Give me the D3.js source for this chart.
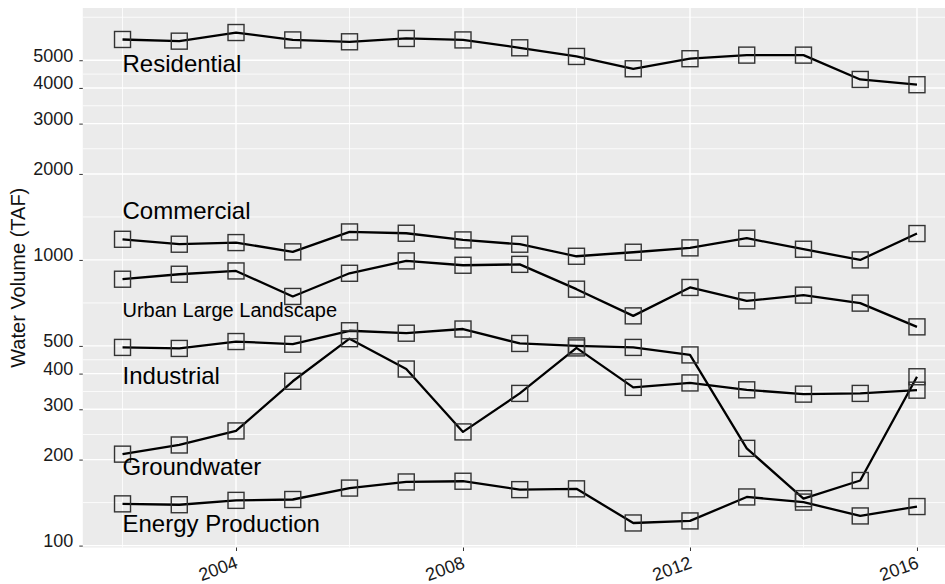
<!DOCTYPE html>
<html>
<head>
<meta charset="utf-8">
<script src="https://cdn.jsdelivr.net/npm/d3@7"></script>
<style>
  html, body { margin: 0; padding: 0; background: #fff; }
  svg { display: block; font-family: "Liberation Sans", Arial, Helvetica, sans-serif; }
</style>
</head>
<body>
<svg id="chart" width="945" height="584"></svg>
<script>
// ---- data ----
const years = [2002, 2003, 2004, 2005, 2006, 2007, 2008, 2009, 2010, 2011, 2012, 2013, 2014, 2015, 2016];
const residential = [5911, 5832, 6252, 5890, 5802, 5960, 5890, 5528, 5155, 4668, 5062, 5211, 5211, 4283, 4105];
const commercial  = [1181, 1135, 1150, 1067, 1253, 1240, 1175, 1135, 1030, 1064, 1102, 1191, 1090, 1000, 1237];
const urbanLarge  = [856, 891, 915, 745, 898, 992, 958, 965, 790, 637, 801, 719, 753, 706, 583];
const industrial  = [494, 490, 518, 507, 565, 554, 573, 510, 500, 494, 465, 219, 146, 169, 390];
const groundwater = [209, 225, 252, 376, 530, 415, 250, 341, 492, 358, 371, 351, 339, 341, 350];
const energy      = [140, 139, 144, 145, 159, 167, 168, 157, 158, 120, 122, 148, 142, 127, 137];

const seriesNames  = ["Residential", "Commercial", "Urban Large Landscape", "Industrial", "Groundwater", "Energy Production"];
const seriesValues = [residential, commercial, urbanLarge, industrial, groundwater, energy];
const labelValues  = [4530, 1388, 630, 368, 177, 112];   // label anchor (TAF) at first year

const yTicks = [100, 200, 300, 400, 500, 1000, 2000, 3000, 4000, 5000];
const xTicks = [2004, 2008, 2012, 2016];
const yTitle = "Water Volume (TAF)";

// ---- layout ----
const svg = d3.select("#chart");
const panel = { left: 82.8, top: 8, bottom: 547.5, right: 956.7 };

const allVals = seriesValues.flat();
const lmin = Math.log10(d3.min(allVals)), lmax = Math.log10(d3.max(allVals));
const lexp = (lmax - lmin) * 0.05;
const y = d3.scaleLog()
  .domain([Math.pow(10, lmin - lexp), Math.pow(10, lmax + lexp)])
  .range([panel.bottom, panel.top]);

const xspan = d3.max(years) - d3.min(years);
const x = d3.scaleLinear()
  .domain([d3.min(years) - xspan * 0.05, d3.max(years) + xspan * 0.05])
  .range([panel.left, panel.right]);

// panel background
svg.append("rect")
  .attr("x", panel.left).attr("y", panel.top)
  .attr("width", panel.right - panel.left).attr("height", panel.bottom - panel.top)
  .attr("fill", "#EBEBEB");

const grid = svg.append("g");
// minor y grid (midpoints in log space)
const lt = yTicks.map(v => Math.log10(v));
const ltExt = lt.concat([lt[lt.length - 1] + (lt[1] - lt[0])]);
const yMinor = [];
for (let i = 0; i < ltExt.length - 1; i++) yMinor.push(Math.pow(10, (ltExt[i] + ltExt[i + 1]) / 2));
grid.selectAll(".ymin").data(yMinor.filter(v => y(v) >= panel.top && y(v) <= panel.bottom))
  .join("line")
  .attr("x1", panel.left).attr("x2", panel.right)
  .attr("y1", d => y(d)).attr("y2", d => y(d))
  .attr("stroke", "#fff").attr("stroke-width", 0.8);
// minor x grid
const xMinor = [2002, 2006, 2010, 2014];
grid.selectAll(".xmin").data(xMinor).join("line")
  .attr("x1", d => x(d)).attr("x2", d => x(d))
  .attr("y1", panel.top).attr("y2", panel.bottom)
  .attr("stroke", "#fff").attr("stroke-width", 0.8);
// major grid
grid.selectAll(".ymaj").data(yTicks).join("line")
  .attr("x1", panel.left).attr("x2", panel.right)
  .attr("y1", d => y(d)).attr("y2", d => y(d))
  .attr("stroke", "#fff").attr("stroke-width", 1.4);
grid.selectAll(".xmaj").data(xTicks).join("line")
  .attr("x1", d => x(d)).attr("x2", d => x(d))
  .attr("y1", panel.top).attr("y2", panel.bottom)
  .attr("stroke", "#fff").attr("stroke-width", 1.4);

// ---- axes ----
const yAxis = svg.append("g").attr("transform", `translate(${panel.left},0)`)
  .call(d3.axisLeft(y).tickValues(yTicks).tickFormat(d3.format("d")).tickSize(3.5).tickPadding(6));
yAxis.select(".domain").remove();
yAxis.selectAll(".tick line").attr("stroke", "#333");
yAxis.selectAll(".tick text")
  .attr("font-size", 18).attr("fill", "#1a1a1a")
  .attr("dy", "0.05em").attr("x", -9.5);

const xAxis = svg.append("g").attr("transform", `translate(0,${panel.bottom})`)
  .call(d3.axisBottom(x).tickValues(xTicks).tickFormat(d3.format("d")).tickSize(3.5).tickPadding(0));
xAxis.select(".domain").remove();
xAxis.selectAll(".tick line").attr("stroke", "#333");
xAxis.selectAll(".tick text")
  .attr("font-size", 18).attr("fill", "#1a1a1a")
  .attr("text-anchor", "end")
  .attr("x", 0).attr("y", 0).attr("dy", 0)
  .attr("transform", "translate(2.5,20) rotate(-20)");

svg.append("text")
  .attr("transform", `translate(25,${(panel.top + panel.bottom) / 2}) rotate(-90)`)
  .attr("text-anchor", "middle")
  .attr("font-size", 20).attr("fill", "#111")
  .text(yTitle);

// ---- series ----
const line = d3.line().x((d, i) => x(years[i])).y(d => y(d));
const plot = svg.append("g");
seriesValues.forEach(vals => {
  plot.append("path").datum(vals)
    .attr("d", line).attr("fill", "none")
    .attr("stroke", "#000").attr("stroke-width", 2.3).attr("stroke-linejoin", "round");
});
const sq = 16;
seriesValues.forEach(vals => {
  plot.selectAll(null).data(vals).join("rect")
    .attr("x", (d, i) => x(years[i]) - sq / 2)
    .attr("y", d => y(d) - sq / 2)
    .attr("width", sq).attr("height", sq)
    .attr("fill", "none").attr("stroke", "#333").attr("stroke-width", 1.4);
});

// labels
plot.selectAll(".lab").data(seriesNames).join("text")
  .attr("x", x(years[0]))
  .attr("y", (d, i) => y(labelValues[i]))
  .attr("font-size", d => d === "Urban Large Landscape" ? 20 : 24)
  .attr("fill", "#000")
  .text(d => d);
</script>
</body>
</html>
